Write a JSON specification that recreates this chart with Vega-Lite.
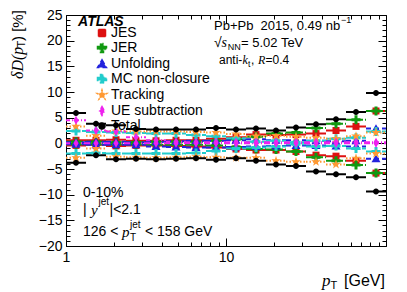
{
  "$schema": "https://vega.github.io/schema/vega-lite/v6.json",
  "width": 320,
  "height": 231,
  "autosize": {"type": "none"},
  "padding": {"left": 66, "top": 15, "right": 21, "bottom": 46},
  "background": "white",
  "config": {
    "view": {"stroke": "#000000", "strokeWidth": 1},
    "axis": {"grid": false, "domain": false, "tickColor": "#000000", "tickWidth": 1, "labelColor": "#000000", "labelFont": "Liberation Sans", "labelFontSize": 14, "labelFlush": false}
  },
  "datasets": {
    "bins": [
      {"b": 1, "lo": 1, "c": 1.155, "hi": 1.334},
      {"b": 2, "lo": 1.334, "c": 1.540, "hi": 1.778},
      {"b": 3, "lo": 1.778, "c": 2.054, "hi": 2.371},
      {"b": 4, "lo": 2.371, "c": 2.738, "hi": 3.162},
      {"b": 5, "lo": 3.162, "c": 3.652, "hi": 4.217},
      {"b": 6, "lo": 4.217, "c": 4.870, "hi": 5.623},
      {"b": 7, "lo": 5.623, "c": 6.494, "hi": 7.499},
      {"b": 8, "lo": 7.499, "c": 8.660, "hi": 10},
      {"b": 9, "lo": 10, "c": 11.55, "hi": 13.34},
      {"b": 10, "lo": 13.34, "c": 15.40, "hi": 17.78},
      {"b": 11, "lo": 17.78, "c": 20.54, "hi": 23.71},
      {"b": 12, "lo": 23.71, "c": 27.38, "hi": 31.62},
      {"b": 13, "lo": 31.62, "c": 36.52, "hi": 42.17},
      {"b": 14, "lo": 42.17, "c": 48.70, "hi": 56.23},
      {"b": 15, "lo": 56.23, "c": 64.94, "hi": 74.99},
      {"b": 16, "lo": 74.99, "c": 86.60, "hi": 100}
    ],
    "unc": [
      {"s": "JES", "b": 1, "up": 0.6, "dn": -0.4},
      {"s": "JES", "b": 2, "up": 0.6, "dn": -0.3},
      {"s": "JES", "b": 3, "up": 0.7, "dn": -0.5},
      {"s": "JES", "b": 4, "up": 0.5, "dn": -0.4},
      {"s": "JES", "b": 5, "up": 0.5, "dn": -0.4},
      {"s": "JES", "b": 6, "up": 0.6, "dn": -0.5},
      {"s": "JES", "b": 7, "up": 0.6, "dn": -0.6},
      {"s": "JES", "b": 8, "up": 0.9, "dn": -0.8},
      {"s": "JES", "b": 9, "up": 1.2, "dn": -1.1},
      {"s": "JES", "b": 10, "up": 1.7, "dn": -1.3},
      {"s": "JES", "b": 11, "up": 1.6, "dn": -1.3},
      {"s": "JES", "b": 12, "up": 1.7, "dn": -1.6},
      {"s": "JES", "b": 13, "up": 1.9, "dn": -2.3},
      {"s": "JES", "b": 14, "up": 2.5, "dn": -2.5},
      {"s": "JES", "b": 15, "up": 3.3, "dn": -3.4},
      {"s": "JES", "b": 16, "up": 6.3, "dn": -5.8},
      {"s": "JER", "b": 1, "up": 0.3, "dn": -0.2},
      {"s": "JER", "b": 2, "up": 0.3, "dn": -0.2},
      {"s": "JER", "b": 3, "up": 0.2, "dn": -0.2},
      {"s": "JER", "b": 4, "up": 0.2, "dn": -0.2},
      {"s": "JER", "b": 5, "up": 0.3, "dn": -0.3},
      {"s": "JER", "b": 6, "up": 0.3, "dn": -0.3},
      {"s": "JER", "b": 7, "up": 0.3, "dn": -0.3},
      {"s": "JER", "b": 8, "up": 0.5, "dn": -0.4},
      {"s": "JER", "b": 9, "up": 0.8, "dn": -0.7},
      {"s": "JER", "b": 10, "up": 1.3, "dn": -1.1},
      {"s": "JER", "b": 11, "up": 1.9, "dn": -1.2},
      {"s": "JER", "b": 12, "up": 2.1, "dn": -1.6},
      {"s": "JER", "b": 13, "up": 3.0, "dn": -2.7},
      {"s": "JER", "b": 14, "up": 3.8, "dn": -3.4},
      {"s": "JER", "b": 15, "up": 4.6, "dn": -4.2},
      {"s": "JER", "b": 16, "up": 6.3, "dn": -5.8},
      {"s": "Unfolding", "b": 1, "up": 0.2, "dn": -0.2},
      {"s": "Unfolding", "b": 2, "up": 0.3, "dn": -0.3},
      {"s": "Unfolding", "b": 3, "up": 0.3, "dn": -0.3},
      {"s": "Unfolding", "b": 4, "up": 0.2, "dn": -0.3},
      {"s": "Unfolding", "b": 5, "up": 0.3, "dn": -0.6},
      {"s": "Unfolding", "b": 6, "up": 0.4, "dn": -0.7},
      {"s": "Unfolding", "b": 7, "up": 0.5, "dn": -0.8},
      {"s": "Unfolding", "b": 8, "up": 0.5, "dn": -0.8},
      {"s": "Unfolding", "b": 9, "up": 0.6, "dn": -0.7},
      {"s": "Unfolding", "b": 10, "up": 0.8, "dn": -0.6},
      {"s": "Unfolding", "b": 11, "up": 0.6, "dn": -0.5},
      {"s": "Unfolding", "b": 12, "up": 0.6, "dn": -0.4},
      {"s": "Unfolding", "b": 13, "up": 0.5, "dn": -0.4},
      {"s": "Unfolding", "b": 14, "up": 0.4, "dn": -0.5},
      {"s": "Unfolding", "b": 15, "up": 0.5, "dn": -0.6},
      {"s": "Unfolding", "b": 16, "up": 2.9, "dn": -3.0},
      {"s": "MC non-closure", "b": 1, "up": 2.4, "dn": -2.0},
      {"s": "MC non-closure", "b": 2, "up": 2.2, "dn": -1.9},
      {"s": "MC non-closure", "b": 3, "up": 2.1, "dn": -2.0},
      {"s": "MC non-closure", "b": 4, "up": 2.0, "dn": -2.0},
      {"s": "MC non-closure", "b": 5, "up": 1.9, "dn": -2.0},
      {"s": "MC non-closure", "b": 6, "up": 1.9, "dn": -2.0},
      {"s": "MC non-closure", "b": 7, "up": 1.6, "dn": -1.9},
      {"s": "MC non-closure", "b": 8, "up": 1.4, "dn": -1.5},
      {"s": "MC non-closure", "b": 9, "up": 1.0, "dn": -1.0},
      {"s": "MC non-closure", "b": 10, "up": 0.3, "dn": -0.8},
      {"s": "MC non-closure", "b": 11, "up": 0.5, "dn": -0.6},
      {"s": "MC non-closure", "b": 12, "up": 0.2, "dn": -0.2},
      {"s": "MC non-closure", "b": 13, "up": 0.5, "dn": -0.6},
      {"s": "MC non-closure", "b": 14, "up": 0.9, "dn": -0.5},
      {"s": "MC non-closure", "b": 15, "up": 1.1, "dn": -1.0},
      {"s": "MC non-closure", "b": 16, "up": 2.3, "dn": -1.6},
      {"s": "Tracking", "b": 1, "up": 3.3, "dn": -2.8},
      {"s": "Tracking", "b": 2, "up": 1.5, "dn": -1.0},
      {"s": "Tracking", "b": 3, "up": 2.4, "dn": -2.6},
      {"s": "Tracking", "b": 4, "up": 2.3, "dn": -2.7},
      {"s": "Tracking", "b": 5, "up": 2.3, "dn": -2.8},
      {"s": "Tracking", "b": 6, "up": 2.3, "dn": -2.7},
      {"s": "Tracking", "b": 7, "up": 2.2, "dn": -2.6},
      {"s": "Tracking", "b": 8, "up": 2.1, "dn": -2.7},
      {"s": "Tracking", "b": 9, "up": 1.8, "dn": -2.8},
      {"s": "Tracking", "b": 10, "up": 1.4, "dn": -2.8},
      {"s": "Tracking", "b": 11, "up": 1.5, "dn": -3.4},
      {"s": "Tracking", "b": 12, "up": 1.3, "dn": -3.6},
      {"s": "Tracking", "b": 13, "up": 1.1, "dn": -3.6},
      {"s": "Tracking", "b": 14, "up": 0.9, "dn": -4.1},
      {"s": "Tracking", "b": 15, "up": 1.4, "dn": -2.9},
      {"s": "Tracking", "b": 16, "up": 2.1, "dn": -2.0},
      {"s": "UE subtraction", "b": 1, "up": 4.5, "dn": 0},
      {"s": "UE subtraction", "b": 2, "up": 2.5, "dn": 0},
      {"s": "UE subtraction", "b": 3, "up": 2.3, "dn": 0},
      {"s": "UE subtraction", "b": 4, "up": 1.2, "dn": 0},
      {"s": "UE subtraction", "b": 5, "up": 0.6, "dn": 0},
      {"s": "UE subtraction", "b": 6, "up": 0.3, "dn": 0},
      {"s": "UE subtraction", "b": 7, "up": 0.2, "dn": 0},
      {"s": "UE subtraction", "b": 8, "up": 0.2, "dn": 0},
      {"s": "UE subtraction", "b": 9, "up": 0.2, "dn": 0},
      {"s": "UE subtraction", "b": 10, "up": 0.2, "dn": 0},
      {"s": "UE subtraction", "b": 11, "up": 0.2, "dn": 0},
      {"s": "UE subtraction", "b": 12, "up": 0.2, "dn": 0},
      {"s": "UE subtraction", "b": 13, "up": 0.2, "dn": 0},
      {"s": "UE subtraction", "b": 14, "up": 0.2, "dn": 0},
      {"s": "UE subtraction", "b": 15, "up": 0.2, "dn": 0},
      {"s": "UE subtraction", "b": 16, "up": 0.2, "dn": 0},
      {"s": "Total", "b": 1, "up": 5.9, "dn": -3.8},
      {"s": "Total", "b": 2, "up": 3.8, "dn": -2.3},
      {"s": "Total", "b": 3, "up": 3.5, "dn": -3.1},
      {"s": "Total", "b": 4, "up": 2.8, "dn": -3.0},
      {"s": "Total", "b": 5, "up": 2.7, "dn": -3.1},
      {"s": "Total", "b": 6, "up": 2.7, "dn": -3.0},
      {"s": "Total", "b": 7, "up": 2.7, "dn": -2.9},
      {"s": "Total", "b": 8, "up": 3.0, "dn": -3.2},
      {"s": "Total", "b": 9, "up": 2.7, "dn": -2.9},
      {"s": "Total", "b": 10, "up": 2.9, "dn": -3.4},
      {"s": "Total", "b": 11, "up": 2.5, "dn": -4.1},
      {"s": "Total", "b": 12, "up": 3.1, "dn": -4.4},
      {"s": "Total", "b": 13, "up": 3.7, "dn": -5.5},
      {"s": "Total", "b": 14, "up": 4.7, "dn": -6.0},
      {"s": "Total", "b": 15, "up": 6.1, "dn": -6.6},
      {"s": "Total", "b": 16, "up": 9.8, "dn": -9.4}
    ]
  },
  "resolve": {"axis": {"x": "independent", "y": "independent"}},
  "layer": [
    {
      "data": {"name": "unc"},
      "transform": [
        {"lookup": "b", "from": {"data": {"name": "bins"}, "key": "b", "fields": ["lo", "c", "hi"]}},
        {"fold": ["up", "dn"], "as": ["side", "v"]}
      ],
      "mark": {"type": "rule", "strokeWidth": 2},
      "encoding": {
        "x": {"field": "lo", "type": "quantitative", "scale": {"type": "log", "domain": [1, 100], "nice": false}, "axis": {"orient": "bottom", "values": [1, 10], "tickSize": -8, "labelPadding": 12, "format": "d", "title": null}},
        "x2": {"field": "hi"},
        "y": {"field": "v", "type": "quantitative", "scale": {"domain": [-20, 25], "nice": false, "zero": false}, "axis": {"orient": "left", "values": [-20, -15, -10, -5, 0, 5, 10, 15, 20, 25], "tickSize": -8, "labelPadding": 12, "title": null}},
        "color": {"field": "s", "type": "nominal", "scale": {"domain": ["JES", "JER", "Unfolding", "MC non-closure", "Tracking", "UE subtraction", "Total"], "range": ["#dd1111", "#119911", "#2222dd", "#22cccc", "#ff9933", "#ee22ee", "#000000"]}},
        "strokeDash": {"field": "s", "type": "nominal", "scale": {"domain": ["JES", "JER", "Unfolding", "MC non-closure", "Tracking", "UE subtraction", "Total"], "range": [[1, 0], [6, 2, 1, 2], [5, 3], [8, 3, 2, 3], [1.5, 2], [4, 2, 1, 2], [1, 0]]}, "legend": null}
      }
    },
    {
      "data": {"name": "unc"},
      "transform": [
        {"lookup": "b", "from": {"data": {"name": "bins"}, "key": "b", "fields": ["lo", "c", "hi"]}},
        {"fold": ["up", "dn"], "as": ["side", "v"]}
      ],
      "mark": {"type": "point", "filled": true, "opacity": 1, "size": 100, "strokeWidth": 0},
      "encoding": {
        "x": {"field": "c", "type": "quantitative", "axis": {"orient": "bottom", "values": [2, 3, 4, 5, 6, 7, 8, 9, 20, 30, 40, 50, 60, 70, 80, 90], "tickSize": -4, "labels": false, "title": null}},
        "y": {"field": "v", "type": "quantitative", "axis": {"orient": "left", "values": [-20, -19, -18, -17, -16, -15, -14, -13, -12, -11, -10, -9, -8, -7, -6, -5, -4, -3, -2, -1, 0, 1, 2, 3, 4, 5, 6, 7, 8, 9, 10, 11, 12, 13, 14, 15, 16, 17, 18, 19, 20, 21, 22, 23, 24, 25], "tickSize": -4, "labels": false, "title": null}},
        "color": {"field": "s", "type": "nominal", "legend": {
          "orient": "none", "legendX": 29, "legendY": 11, "title": null, "labelFont": "Liberation Sans", "labelFontSize": 14, "labelColor": "#000000", "symbolSize": 100, "rowPadding": 0, "labelOffset": 2, "padding": 0,
          "encode": {
            "symbols": {"update": {
            "shape": {"signal": "datum.value==='JES'?'M-1.3,0H1.3M-0.55,-0.55H0.55V0.55H-0.55Z':(datum.value==='JER'||datum.value==='MC non-closure')?'M-1.3,0H1.3M-0.72,-0.24H-0.24V-0.72H0.24V-0.24H0.72V0.24H0.24V0.72H-0.24V0.24H-0.72Z':datum.value==='Unfolding'?'M-1.3,0H1.3M0,-0.7L0.72,0.56H-0.72Z':datum.value==='Tracking'?'M-1.3,0H1.3M0,-0.8L0.18,-0.25L0.76,-0.25L0.29,0.1L0.47,0.65L0,0.3L-0.47,0.65L-0.29,0.1L-0.76,-0.25L-0.18,-0.25Z':datum.value==='UE subtraction'?'M-1.3,0H1.3M0,-0.75L0.4,0L0,0.75L-0.4,0Z':'M-1.3,0H1.3M-0.5,0A0.5,0.5,0,1,0,0.5,0A0.5,0.5,0,1,0,-0.5,0Z'"},
            "fill": {"scale": "color", "field": "value"},
            "stroke": {"scale": "color", "field": "value"},
            "strokeWidth": {"value": 1.2},
            "opacity": {"value": 1}
          }}}
        }},
        "shape": {"field": "s", "type": "nominal", "scale": {"domain": ["JES", "JER", "Unfolding", "MC non-closure", "Tracking", "UE subtraction", "Total"], "range": ["M-0.7,-0.7H0.7V0.7H-0.7Z", "M-0.9,-0.3H-0.3V-0.9H0.3V-0.3H0.9V0.3H0.3V0.9H-0.3V0.3H-0.9Z", "M0,-0.85L0.9,0.7H-0.9Z", "M-0.9,-0.3H-0.3V-0.9H0.3V-0.3H0.9V0.3H0.3V0.9H-0.3V0.3H-0.9Z", "M0,-1L0.22,-0.31L0.95,-0.31L0.36,0.12L0.59,0.81L0,0.38L-0.59,0.81L-0.36,0.12L-0.95,-0.31L-0.22,-0.31Z", "M0,-0.9L0.5,0L0,0.9L-0.5,0Z", "M-0.6,0A0.6,0.6,0,1,0,0.6,0A0.6,0.6,0,1,0,-0.6,0Z"]}, "legend": null}
      }
    },
    {
      "data": {"name": "unc"},
      "transform": [
        {"lookup": "b", "from": {"data": {"name": "bins"}, "key": "b", "fields": ["lo", "c", "hi"]}},
        {"fold": ["up", "dn"], "as": ["side", "v"]}
      ],
      "mark": {"type": "point", "opacity": 0},
      "encoding": {
        "x": {"field": "c", "type": "quantitative", "axis": {"orient": "top", "values": [10], "tickSize": -8, "labels": false, "title": null}},
        "y": {"field": "v", "type": "quantitative", "axis": {"orient": "right", "values": [-20, -15, -10, -5, 0, 5, 10, 15, 20, 25], "tickSize": -8, "labels": false, "title": null}}
      }
    },
    {
      "data": {"name": "unc"},
      "transform": [
        {"lookup": "b", "from": {"data": {"name": "bins"}, "key": "b", "fields": ["lo", "c", "hi"]}},
        {"fold": ["up", "dn"], "as": ["side", "v"]}
      ],
      "mark": {"type": "point", "opacity": 0},
      "encoding": {
        "x": {"field": "c", "type": "quantitative", "axis": {"orient": "top", "values": [2, 3, 4, 5, 6, 7, 8, 9, 20, 30, 40, 50, 60, 70, 80, 90], "tickSize": -4, "labels": false, "title": null}},
        "y": {"field": "v", "type": "quantitative", "axis": {"orient": "right", "values": [-20, -19, -18, -17, -16, -15, -14, -13, -12, -11, -10, -9, -8, -7, -6, -5, -4, -3, -2, -1, 0, 1, 2, 3, 4, 5, 6, 7, 8, 9, 10, 11, 12, 13, 14, 15, 16, 17, 18, 19, 20, 21, 22, 23, 24, 25], "tickSize": -4, "labels": false, "title": null}}
      }
    },
    {"data": {"values": [{}]}, "mark": {"type": "text", "text": "ATLAS", "font": "Liberation Sans", "fontSize": 14, "fontWeight": "bold", "fontStyle": "italic", "align": "left", "baseline": "middle", "color": "#000000"}, "encoding": {"x": {"datum": 1.19, "type": "quantitative", "axis": null}, "y": {"datum": 23.6, "type": "quantitative", "axis": null}}},
    {"data": {"values": [{}]}, "mark": {"type": "text", "text": "Pb+Pb\u00a0 2015, 0.49 nb", "font": "Liberation Sans", "fontSize": 13, "align": "left", "baseline": "middle", "color": "#000000"}, "encoding": {"x": {"datum": 8.414, "type": "quantitative", "axis": null}, "y": {"datum": 22.85, "type": "quantitative", "axis": null}}},
    {"data": {"values": [{}]}, "mark": {"type": "text", "text": "\u22121", "font": "Liberation Sans", "fontSize": 9, "align": "left", "baseline": "middle", "color": "#000000"}, "encoding": {"x": {"datum": 52.3, "type": "quantitative", "axis": null}, "y": {"datum": 24.0, "type": "quantitative", "axis": null}}},
    {"data": {"values": [{}]}, "mark": {"type": "text", "text": "\u221a", "font": "Liberation Sans", "fontSize": 14, "align": "left", "baseline": "middle", "color": "#000000"}, "encoding": {"x": {"datum": 8.414, "type": "quantitative", "axis": null}, "y": {"datum": 19.54, "type": "quantitative", "axis": null}}},
    {"data": {"values": [{}]}, "mark": {"type": "text", "text": "s", "font": "Liberation Serif", "fontStyle": "italic", "fontSize": 14, "align": "left", "baseline": "middle", "color": "#000000"}, "encoding": {"x": {"datum": 9.373, "type": "quantitative", "axis": null}, "y": {"datum": 19.54, "type": "quantitative", "axis": null}}},
    {"data": {"values": [{}]}, "mark": {"type": "text", "text": "NN", "font": "Liberation Sans", "fontSize": 9, "align": "left", "baseline": "middle", "color": "#000000"}, "encoding": {"x": {"datum": 10.26, "type": "quantitative", "axis": null}, "y": {"datum": 18.76, "type": "quantitative", "axis": null}}},
    {"data": {"values": [{}]}, "mark": {"type": "text", "text": "= 5.02 TeV", "font": "Liberation Sans", "fontSize": 13, "align": "left", "baseline": "middle", "color": "#000000"}, "encoding": {"x": {"datum": 12.41, "type": "quantitative", "axis": null}, "y": {"datum": 19.54, "type": "quantitative", "axis": null}}},
    {"data": {"values": [{}]}, "mark": {"type": "text", "text": "anti-", "font": "Liberation Sans", "fontSize": 12, "align": "left", "baseline": "middle", "color": "#000000"}, "encoding": {"x": {"datum": 9.04, "type": "quantitative", "axis": null}, "y": {"datum": 16.23, "type": "quantitative", "axis": null}}},
    {"data": {"values": [{}]}, "mark": {"type": "text", "text": "k", "font": "Liberation Serif", "fontStyle": "italic", "fontSize": 12, "align": "left", "baseline": "middle", "color": "#000000"}, "encoding": {"x": {"datum": 12.68, "type": "quantitative", "axis": null}, "y": {"datum": 16.23, "type": "quantitative", "axis": null}}},
    {"data": {"values": [{}]}, "mark": {"type": "text", "text": "t", "font": "Liberation Sans", "fontSize": 8.5, "align": "left", "baseline": "middle", "color": "#000000"}, "encoding": {"x": {"datum": 13.72, "type": "quantitative", "axis": null}, "y": {"datum": 15.4, "type": "quantitative", "axis": null}}},
    {"data": {"values": [{}]}, "mark": {"type": "text", "text": ",", "font": "Liberation Sans", "fontSize": 12, "align": "left", "baseline": "middle", "color": "#000000"}, "encoding": {"x": {"datum": 14.33, "type": "quantitative", "axis": null}, "y": {"datum": 16.23, "type": "quantitative", "axis": null}}},
    {"data": {"values": [{}]}, "mark": {"type": "text", "text": "R", "font": "Liberation Serif", "fontStyle": "italic", "fontSize": 12, "align": "left", "baseline": "middle", "color": "#000000"}, "encoding": {"x": {"datum": 15.85, "type": "quantitative", "axis": null}, "y": {"datum": 16.23, "type": "quantitative", "axis": null}}},
    {"data": {"values": [{}]}, "mark": {"type": "text", "text": "=0.4", "font": "Liberation Sans", "fontSize": 12, "align": "left", "baseline": "middle", "color": "#000000"}, "encoding": {"x": {"datum": 17.65, "type": "quantitative", "axis": null}, "y": {"datum": 16.23, "type": "quantitative", "axis": null}}},
    {"data": {"values": [{}]}, "mark": {"type": "text", "text": "0-10%", "font": "Liberation Sans", "fontSize": 14, "align": "left", "baseline": "middle", "color": "#000000"}, "encoding": {"x": {"datum": 1.277, "type": "quantitative", "axis": null}, "y": {"datum": -9.68, "type": "quantitative", "axis": null}}},
    {"data": {"values": [{}]}, "mark": {"type": "text", "text": "|", "font": "Liberation Sans", "fontSize": 14, "align": "left", "baseline": "middle", "color": "#000000"}, "encoding": {"x": {"datum": 1.277, "type": "quantitative", "axis": null}, "y": {"datum": -12.99, "type": "quantitative", "axis": null}}},
    {"data": {"values": [{}]}, "mark": {"type": "text", "text": "y", "font": "Liberation Serif", "fontStyle": "italic", "fontSize": 15, "align": "left", "baseline": "middle", "color": "#000000"}, "encoding": {"x": {"datum": 1.433, "type": "quantitative", "axis": null}, "y": {"datum": -12.99, "type": "quantitative", "axis": null}}},
    {"data": {"values": [{}]}, "mark": {"type": "text", "text": "jet", "font": "Liberation Sans", "fontSize": 10, "align": "left", "baseline": "middle", "color": "#000000"}, "encoding": {"x": {"datum": 1.596, "type": "quantitative", "axis": null}, "y": {"datum": -11.4, "type": "quantitative", "axis": null}}},
    {"data": {"values": [{}]}, "mark": {"type": "text", "text": "|<2.1", "font": "Liberation Sans", "fontSize": 14, "align": "left", "baseline": "middle", "color": "#000000"}, "encoding": {"x": {"datum": 1.87, "type": "quantitative", "axis": null}, "y": {"datum": -12.99, "type": "quantitative", "axis": null}}},
    {"data": {"values": [{}]}, "mark": {"type": "text", "text": "126 <", "font": "Liberation Sans", "fontSize": 14, "align": "left", "baseline": "middle", "color": "#000000"}, "encoding": {"x": {"datum": 1.277, "type": "quantitative", "axis": null}, "y": {"datum": -17.28, "type": "quantitative", "axis": null}}},
    {"data": {"values": [{}]}, "mark": {"type": "text", "text": "p", "font": "Liberation Serif", "fontStyle": "italic", "fontSize": 15, "align": "left", "baseline": "middle", "color": "#000000"}, "encoding": {"x": {"datum": 2.239, "type": "quantitative", "axis": null}, "y": {"datum": -17.28, "type": "quantitative", "axis": null}}},
    {"data": {"values": [{}]}, "mark": {"type": "text", "text": "jet", "font": "Liberation Sans", "fontSize": 10, "align": "left", "baseline": "middle", "color": "#000000"}, "encoding": {"x": {"datum": 2.512, "type": "quantitative", "axis": null}, "y": {"datum": -15.9, "type": "quantitative", "axis": null}}},
    {"data": {"values": [{}]}, "mark": {"type": "text", "text": "T", "font": "Liberation Sans", "fontSize": 10, "align": "left", "baseline": "middle", "color": "#000000"}, "encoding": {"x": {"datum": 2.512, "type": "quantitative", "axis": null}, "y": {"datum": -18.35, "type": "quantitative", "axis": null}}},
    {"data": {"values": [{}]}, "mark": {"type": "text", "text": "< 158 GeV", "font": "Liberation Sans", "fontSize": 14, "align": "left", "baseline": "middle", "color": "#000000"}, "encoding": {"x": {"datum": 3.117, "type": "quantitative", "axis": null}, "y": {"datum": -17.28, "type": "quantitative", "axis": null}}},
    {"data": {"values": [{}]}, "mark": {"type": "text", "text": "p", "font": "Liberation Serif", "fontStyle": "italic", "fontSize": 17, "align": "left", "baseline": "middle", "color": "#000000"}, "encoding": {"x": {"datum": 39.81, "type": "quantitative", "axis": null}, "y": {"datum": -26.83, "type": "quantitative", "axis": null}}},
    {"data": {"values": [{}]}, "mark": {"type": "text", "text": "T", "font": "Liberation Sans", "fontSize": 11, "align": "left", "baseline": "middle", "color": "#000000"}, "encoding": {"x": {"datum": 45.0, "type": "quantitative", "axis": null}, "y": {"datum": -27.8, "type": "quantitative", "axis": null}}},
    {"data": {"values": [{}]}, "mark": {"type": "text", "text": "[GeV]", "font": "Liberation Sans", "fontSize": 16, "align": "left", "baseline": "middle", "color": "#000000"}, "encoding": {"x": {"datum": 54.65, "type": "quantitative", "axis": null}, "y": {"datum": -26.83, "type": "quantitative", "axis": null}}},
    {"data": {"values": [{}]}, "mark": {"type": "text", "text": "\u03b4D(p", "font": "Liberation Serif", "fontStyle": "italic", "fontSize": 16, "angle": 270, "align": "left", "baseline": "middle", "color": "#000000"}, "encoding": {"x": {"datum": 0.501, "type": "quantitative", "axis": null}, "y": {"datum": 12.53, "type": "quantitative", "axis": null}}},
    {"data": {"values": [{}]}, "mark": {"type": "text", "text": "T", "font": "Liberation Sans", "fontSize": 11, "angle": 270, "align": "left", "baseline": "middle", "color": "#000000"}, "encoding": {"x": {"datum": 0.531, "type": "quantitative", "axis": null}, "y": {"datum": 18.66, "type": "quantitative", "axis": null}}},
    {"data": {"values": [{}]}, "mark": {"type": "text", "text": ") [%]", "font": "Liberation Sans", "fontSize": 15, "angle": 270, "align": "left", "baseline": "middle", "color": "#000000"}, "encoding": {"x": {"datum": 0.501, "type": "quantitative", "axis": null}, "y": {"datum": 19.93, "type": "quantitative", "axis": null}}}
  ]
}
